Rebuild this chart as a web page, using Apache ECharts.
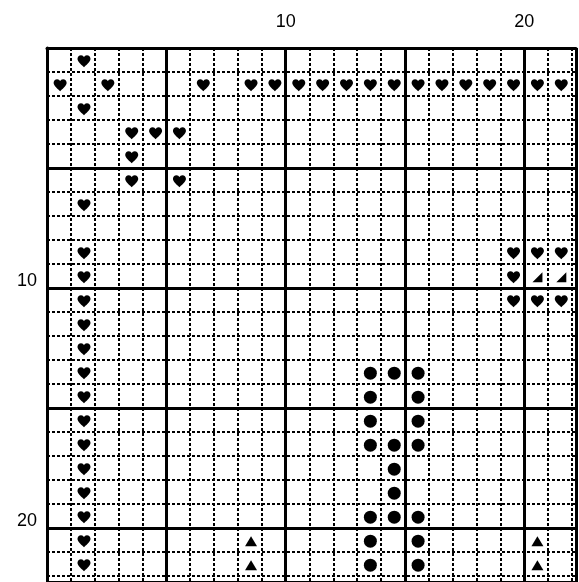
<!DOCTYPE html>
<html><head><meta charset="utf-8">
<script src="https://cdn.jsdelivr.net/npm/echarts@6/dist/echarts.min.js"></script>
<style>html,body{margin:0;padding:0;background:#fff}#main{width:579px;height:582px}</style>
</head><body><div id="main"></div>
<script>
// cells as [column, row]
var hearts = [
  [1,0],
  [0,1],[2,1],[6,1],[8,1],[9,1],[10,1],[11,1],[12,1],[13,1],[14,1],[15,1],[16,1],[17,1],[18,1],[19,1],[20,1],[21,1],
  [1,2],[3,3],[4,3],[5,3],[3,4],[3,5],[5,5],[1,6],
  [1,8],[19,8],[20,8],[21,8],
  [1,9],[19,9],
  [1,10],[19,10],[20,10],[21,10],
  [1,11],[1,12],[1,13],[1,14],[1,15],[1,16],[1,17],[1,18],[1,19],[1,20],[1,21],[1,22]
];
var circles = [
  [13,13],[14,13],[15,13],
  [13,14],[15,14],
  [13,15],[15,15],
  [13,16],[14,16],[15,16],
  [14,17],[14,18],
  [13,19],[14,19],[15,19],
  [13,20],[15,20],
  [13,21],[15,21]
];
var triangles = [[8,20],[20,20],[8,21],[20,21]];
var corners = [[20,9],[21,9]];
var xLabels = {10: '10', 20: '20'};
var yLabels = {10: '10', 20: '20'};

var xMax = 532 / 24, yMax = 534 / 24;
var heartPath = 'path://M12 21C5 15 1 11 1 7C1 3.5 3.5 1 7 1C9.5 1 11 2.5 12 4C13 2.5 14.5 1 17 1C20.5 1 23 3.5 23 7C23 11 19 15 12 21Z';
function cells(a) { return a.map(function (p) { return [p[0] + 0.55, p[1] + 0.55]; }); }

var myChart = echarts.init(document.getElementById('main'));
var thin = {show: true, lineStyle: {color: '#000', type: [3, 2], width: 2}};
var thick = {show: true, lineStyle: {color: '#000', type: 'solid', width: 3}};
var lbl = {color: '#000', fontSize: 18, fontFamily: 'Liberation Sans, Arial'};
var sty = {color: '#000', opacity: 1};
var option = {
  animation: false,
  grid: {left: 47, top: 48, right: 0, bottom: 0},
  xAxis: [
    {type: 'value', min: 0, max: xMax, interval: 1, position: 'top', axisLine: {show: false}, axisTick: {show: false}, axisLabel: {show: false}, splitLine: thin},
    {type: 'value', min: 0, max: xMax, interval: 5, position: 'top', axisLine: {show: true, lineStyle: {color: '#000', width: 3}}, axisTick: {show: false},
     axisLabel: Object.assign({margin: 17, formatter: function (v) { return xLabels[v] || ''; }}, lbl), splitLine: thick}
  ],
  yAxis: [
    {type: 'value', inverse: true, min: 0, max: yMax, interval: 1, axisLine: {show: false}, axisTick: {show: false}, axisLabel: {show: false}, splitLine: thin},
    {type: 'value', inverse: true, min: 0, max: yMax, interval: 5, position: 'left', axisLine: {show: true, lineStyle: {color: '#000', width: 3}}, axisTick: {show: false},
     axisLabel: Object.assign({margin: 10, verticalAlign: 'bottom', lineHeight: 14, formatter: function (v) { return yLabels[v] || ''; }}, lbl), splitLine: thick}
  ],
  series: [
    {type: 'scatter', data: cells(hearts), symbol: heartPath, symbolSize: [13, 12], itemStyle: sty},
    {type: 'scatter', data: cells(circles), symbol: 'circle', symbolSize: 13, itemStyle: sty},
    {type: 'scatter', data: cells(triangles), symbol: 'triangle', symbolSize: [12, 10], itemStyle: sty},
    {type: 'scatter', data: cells(corners), symbol: 'path://M0 10L10 0L10 10Z', symbolSize: 10, itemStyle: sty}
  ]
};
myChart.setOption(option);
</script></body></html>
